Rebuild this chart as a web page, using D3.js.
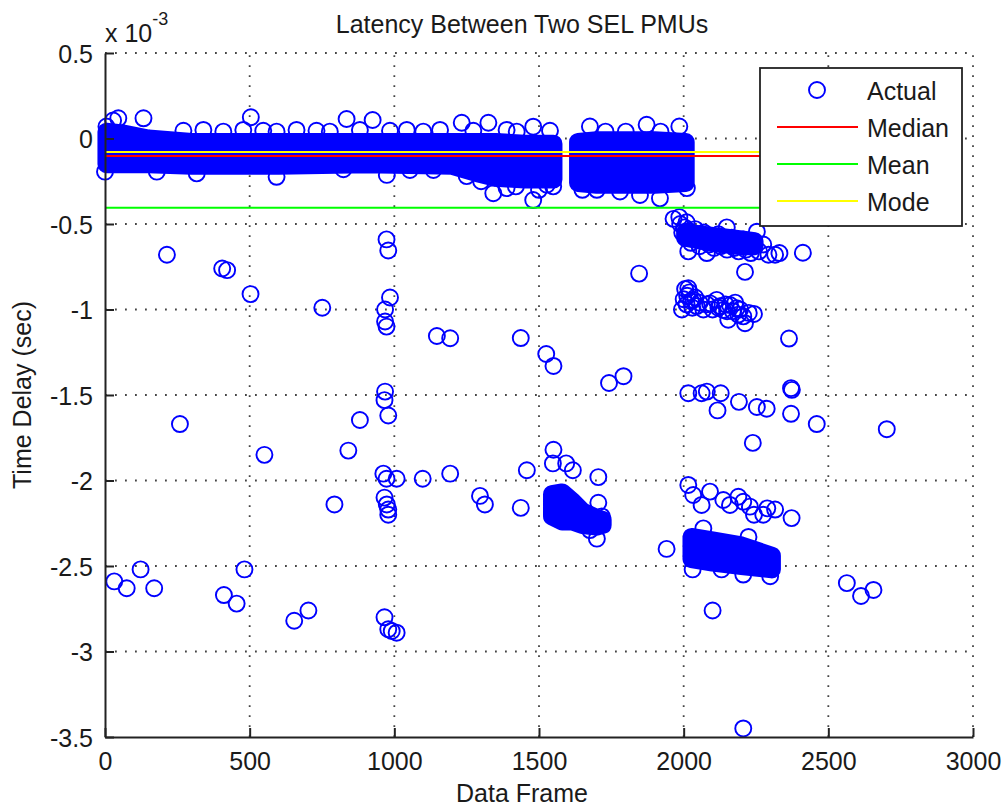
<!DOCTYPE html>
<html>
<head>
<meta charset="utf-8">
<script src="https://cdn.jsdelivr.net/npm/d3@7"></script>
<style>
  body { margin: 0; background: #fff; }
  text { font-family: "Liberation Sans", Arial, sans-serif; fill: #1a1a1a; }
</style>
</head>
<body>
<svg id="chart" width="1003" height="808"></svg>
<script>
// delays are in units of 1e-3 s (axis shows "x 10^-3")
const xTicks = [0, 500, 1000, 1500, 2000, 2500, 3000];
const yTicks = [0.5, 0, -0.5, -1, -1.5, -2, -2.5, -3, -3.5];

const medianDelay = -0.102;
const meanDelay = -0.405;
const modeDelay = -0.079;
const statFrames = [1, 2710];

// solid regions where the circles overlap completely (centre envelope)
const band1Frames = [5, 60, 150, 300, 600, 900, 1200, 1280, 1350, 1450, 1550];
const band1Top    = [0.04, 0.03, 0.0, -0.02, -0.02, -0.02, -0.02, -0.02, -0.02, -0.03, -0.03];
const band1Bottom = [-0.15, -0.15, -0.15, -0.16, -0.16, -0.15, -0.16, -0.20, -0.23, -0.24, -0.24];

const band2Frames = [1635, 1700, 1800, 1900, 2007];
const band2Top    = [-0.02, -0.01, -0.01, -0.01, -0.02];
const band2Bottom = [-0.26, -0.27, -0.27, -0.27, -0.26];

const band3Frames = [1545, 1580, 1615, 1650, 1700, 1720];
const band3Top    = [-2.08, -2.07, -2.12, -2.18, -2.22, -2.23];
const band3Bottom = [-2.21, -2.24, -2.24, -2.26, -2.27, -2.26];

const band4Frames = [2027, 2100, 2200, 2305];
const band4Top    = [-2.33, -2.35, -2.38, -2.44];
const band4Bottom = [-2.46, -2.48, -2.50, -2.52];

const band5Frames = [2005, 2100, 2200, 2245];
const band5Top    = [-0.55, -0.57, -0.59, -0.60];
const band5Bottom = [-0.58, -0.61, -0.63, -0.63];

// circles on the edges of the dense bands
const bandEdgePoints = [
  [5, 0.07], [28, 0.105], [46, 0.118], [133, 0.118], [271, 0.045], [340, 0.05], [409, 0.04],
  [478, 0.05], [504, 0.124], [547, 0.045], [593, 0.04], [662, 0.05], [731, 0.045], [777, 0.04],
  [835, 0.114], [881, 0.05], [925, 0.108], [985, 0.045], [1043, 0.05], [1100, 0.04], [1158, 0.05],
  [1233, 0.092], [1273, 0.045], [1325, 0.092], [1388, 0.05], [1423, 0.04], [1480, 0.069], [1538, 0.045],
  [1676, 0.07], [1730, 0.04], [1800, 0.04], [1872, 0.08], [1920, 0.04], [1985, 0.07],
  [0, -0.194], [179, -0.194], [317, -0.204], [593, -0.224], [824, -0.18], [974, -0.213],
  [1054, -0.184], [1135, -0.184], [1250, -0.22], [1300, -0.25], [1342, -0.32], [1388, -0.29],
  [1420, -0.28], [1480, -0.36], [1500, -0.30], [1527, -0.27], [1549, -0.28],
  [1650, -0.30], [1700, -0.30], [1780, -0.31], [1849, -0.33], [1918, -0.35], [2011, -0.29]
];

// cluster around -0.6 (frames 1965-2350)
const clusterHighPoints = [
  [1965, -0.47], [1985, -0.46], [1988, -0.50], [1995, -0.55], [2003, -0.52], [2010, -0.49],
  [2010, -0.58], [2016, -0.66], [2018, -0.54], [2025, -0.61], [2033, -0.56], [2040, -0.53],
  [2048, -0.59], [2055, -0.63], [2062, -0.57], [2070, -0.55], [2078, -0.60], [2080, -0.67],
  [2088, -0.62], [2096, -0.58], [2105, -0.64], [2112, -0.60], [2120, -0.56], [2128, -0.63],
  [2137, -0.59], [2149, -0.52], [2150, -0.65], [2158, -0.61], [2166, -0.58], [2175, -0.64],
  [2183, -0.60], [2190, -0.66], [2198, -0.62], [2206, -0.59], [2215, -0.65], [2224, -0.61],
  [2232, -0.67], [2240, -0.63], [2253, -0.545], [2260, -0.66], [2275, -0.62], [2293, -0.68],
  [2316, -0.68], [2331, -0.67]
];

// cluster around -1.0 (frames 1990-2245)
const clusterMidPoints = [
  [2005, -0.88], [2012, -0.92], [2016, -0.876], [2010, -0.97], [1994, -1.00], [2025, -0.95],
  [2020, -0.90], [2000, -0.94], [2030, -0.99], [2040, -0.93],
  [2033, -0.944], [2045, -0.98], [2055, -0.96], [2068, -1.00], [2080, -0.97], [2091, -0.964],
  [2100, -1.00], [2114, -0.944], [2125, -0.98], [2137, -1.003], [2145, -0.97], [2154, -1.06],
  [2160, -0.974], [2170, -1.01], [2183, -0.993], [2189, -1.03], [2195, -1.00], [2206, -1.04],
  [2212, -1.08], [2225, -1.02], [2243, -1.026], [2120, -0.99], [2150, -1.01], [2178, -0.96]
];

// row around -2.1 (frames 2015-2375) and edges of the dense clusters below
const clusterLowPoints = [
  [2016, -2.026], [2033, -2.085], [2062, -2.143], [2091, -2.065], [2137, -2.114], [2160, -2.143],
  [2189, -2.095], [2206, -2.124], [2229, -2.153], [2243, -2.20], [2275, -2.20], [2289, -2.163],
  [2316, -2.17], [2373, -2.22],
  [2068, -2.28], [2224, -2.33], [2131, -2.52], [2206, -2.55], [2299, -2.56],
  [1705, -2.13], [1700, -2.34], [1676, -2.29], [1717, -2.21]
];

// scattered outliers
const outlierPoints = [
  [214, -0.68], [405, -0.76], [422, -0.77], [503, -0.91], [751, -0.99], [973, -0.59], [979, -0.655],
  [985, -0.93], [968, -1.00], [968, -1.07], [973, -1.10], [1147, -1.155], [1193, -1.168],
  [1437, -1.167], [1525, -1.26], [1550, -1.33], [259, -1.67], [881, -1.646], [968, -1.48],
  [966, -1.53], [979, -1.62], [551, -1.85], [841, -1.825], [962, -1.96], [973, -1.99],
  [1008, -1.99], [1098, -1.99], [1193, -1.96], [1458, -1.94], [793, -2.14], [966, -2.10],
  [974, -2.14], [979, -2.17], [979, -2.20], [1296, -2.09], [1313, -2.14], [1437, -2.16],
  [32, -2.59], [75, -2.63], [123, -2.52], [170, -2.63], [411, -2.67], [455, -2.72], [482, -2.52],
  [654, -2.82], [703, -2.76], [966, -2.80], [979, -2.87], [991, -2.88], [1008, -2.89],
  [1846, -0.79], [2412, -0.668], [2212, -0.78], [2364, -1.17], [1742, -1.43], [1792, -1.39],
  [2016, -1.49], [2062, -1.49], [2080, -1.48], [2128, -1.49], [2191, -1.54], [2253, -1.57],
  [2287, -1.58], [2117, -1.59], [2371, -1.46], [2374, -1.47], [2371, -1.61], [2460, -1.67],
  [2702, -1.70], [2239, -1.78], [1550, -1.82], [1548, -1.90], [1594, -1.90], [1617, -1.94],
  [1705, -1.98], [1941, -2.40], [2031, -2.52], [2100, -2.76], [2564, -2.60], [2613, -2.675],
  [2656, -2.64], [2206, -3.45]
];

const legendLabels = ["Actual", "Median", "Mean", "Mode"];
const legendColors = ["#0000ff", "#ff0000", "#00ff00", "#ffff00"];

const markerR = 8;

let svg = d3.select("#chart");
svg.append("rect").attr("width", 1003).attr("height", 808).attr("fill", "#fff");

let x = d3.scaleLinear().domain([0, 3000]).range([105, 973]);
let y = d3.scaleLinear().domain([-3.5, 0.5]).range([737, 53]);

// dotted grid
let grid = svg.append("g")
    .attr("stroke", "#444")
    .attr("stroke-width", 1.8)
    .attr("stroke-dasharray", "1.8,8.2");
grid.selectAll(".vgrid")
    .data(xTicks.filter(d => d > 0))
    .enter()
    .append("line")
    .attr("x1", d => x(d)).attr("x2", d => x(d))
    .attr("y1", y(-3.5)).attr("y2", y(0.5));
grid.selectAll(".hgrid")
    .data(yTicks.filter(d => d > -3.5))
    .enter()
    .append("line")
    .attr("x1", x(0)).attr("x2", x(3000))
    .attr("y1", d => y(d)).attr("y2", d => y(d));

// dense bands
let bands = [
    [band1Frames, band1Top, band1Bottom],
    [band2Frames, band2Top, band2Bottom],
    [band3Frames, band3Top, band3Bottom],
    [band4Frames, band4Top, band4Bottom],
    [band5Frames, band5Top, band5Bottom]
];
let area = d3.area()
    .x(d => x(d[0]))
    .y0(d => y(d[2]))
    .y1(d => y(d[1]));
bands.forEach(function (b) {
    let pts = b[0].map((f, i) => [f, b[1][i], b[2][i]]);
    svg.append("path")
        .datum(pts)
        .attr("d", area)
        .attr("fill", "#0000ff")
        .attr("stroke", "#0000ff")
        .attr("stroke-width", markerR * 2 + 2)
        .attr("stroke-linejoin", "round");
});

// circles
let allPoints = bandEdgePoints.concat(clusterHighPoints, clusterMidPoints, clusterLowPoints, outlierPoints);
svg.append("g")
    .selectAll("circle")
    .data(allPoints)
    .enter()
    .append("circle")
    .attr("cx", d => x(d[0]))
    .attr("cy", d => y(d[1]))
    .attr("r", markerR)
    .attr("fill", "none")
    .attr("stroke", "#0000ff")
    .attr("stroke-width", 1.9);

// median / mean / mode lines
let stats = [[medianDelay, "#ff0000"], [meanDelay, "#00ff00"], [modeDelay, "#ffff00"]];
svg.append("g")
    .selectAll("line")
    .data(stats)
    .enter()
    .append("line")
    .attr("x1", x(statFrames[0]))
    .attr("x2", x(statFrames[1]))
    .attr("y1", d => y(d[0]))
    .attr("y2", d => y(d[0]))
    .attr("stroke", d => d[1])
    .attr("stroke-width", 2);

// axes
let xAxis = d3.axisBottom(x).tickValues(xTicks).tickFormat(d3.format("d"))
    .tickSizeInner(-9).tickSizeOuter(0).tickPadding(15);
let yAxis = d3.axisLeft(y).tickValues(yTicks).tickFormat(d => String(d))
    .tickSizeInner(-9).tickSizeOuter(0).tickPadding(12);

let gx = svg.append("g").attr("transform", "translate(0," + y(-3.5) + ")").call(xAxis);
let gy = svg.append("g").attr("transform", "translate(" + x(0) + ",0)").call(yAxis);
[gx, gy].forEach(function (g) {
    g.select(".domain").attr("stroke", "#222").attr("stroke-width", 2);
    g.selectAll(".tick line").attr("stroke", "#222").attr("stroke-width", 2);
    g.selectAll(".tick text")
        .style("font-family", "'Liberation Sans', Arial, sans-serif")
        .style("font-size", "25px")
        .attr("fill", "#1a1a1a");
});
gy.selectAll(".tick text").attr("dy", "0.36em");

// titles
svg.append("text")
    .attr("x", 522).attr("y", 33)
    .attr("text-anchor", "middle")
    .style("font-size", "25px")
    .text("Latency Between Two SEL PMUs");

svg.append("text")
    .attr("x", 522).attr("y", 802)
    .attr("text-anchor", "middle")
    .style("font-size", "25px")
    .text("Data Frame");

svg.append("text")
    .attr("transform", "translate(31," + ((y(0.5) + y(-3.5)) / 2) + ") rotate(-90)")
    .attr("text-anchor", "middle")
    .style("font-size", "25px")
    .text("Time Delay (sec)");

let expo = svg.append("text").attr("x", 105).attr("y", 42).style("font-size", "25px");
expo.append("tspan").text("x 10");
expo.append("tspan").attr("dy", -17).style("font-size", "18px").text("-3");

// legend
let legend = svg.append("g").attr("transform", "translate(760,68)");
legend.append("rect")
    .attr("width", 202).attr("height", 158)
    .attr("fill", "#fff")
    .attr("stroke", "#222")
    .attr("stroke-width", 1.8);

let rows = legend.selectAll(".row")
    .data(legendLabels)
    .enter()
    .append("g")
    .attr("transform", (d, i) => "translate(0," + (22 + i * 37) + ")");

rows.each(function (d, i) {
    let row = d3.select(this);
    if (i === 0) {
        row.append("circle")
            .attr("cx", 57).attr("cy", 0).attr("r", markerR)
            .attr("fill", "none")
            .attr("stroke", legendColors[i])
            .attr("stroke-width", 1.9);
    } else {
        row.append("line")
            .attr("x1", 17).attr("x2", 98)
            .attr("y1", 0).attr("y2", 0)
            .attr("stroke", legendColors[i])
            .attr("stroke-width", 2);
    }
    row.append("text")
        .attr("x", 107).attr("y", 10)
        .style("font-size", "25px")
        .text(d);
});
</script>
</body>
</html>
